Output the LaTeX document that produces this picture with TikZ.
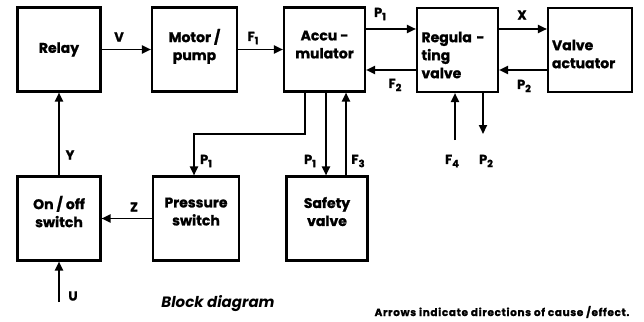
\documentclass[tikz,border=0pt]{standalone}
\usepackage{fontspec}
\setmainfont{Poppins}[BoldFeatures={FakeBold=1.2}]
\usetikzlibrary{arrows.meta}
\newcommand\lowsub[1]{\raisebox{-0.45ex}{\fontsize{10}{10}\selectfont #1}}
\begin{document}
\begin{tikzpicture}[x=1pt,y=-1pt,
  blk/.style={draw, line width=2.1pt, minimum width=83pt, minimum height=84pt, inner sep=2pt,
    font=\bfseries\fontsize{14}{18}\selectfont, align=center},
  arr/.style={line width=1.9pt, -{Triangle[length=9pt,width=8pt]}},
  lbl/.style={font=\bfseries\fontsize{13}{13}\selectfont, inner sep=0pt}]
\useasboundingbox (0,0) rectangle (644,321);
% blocks
\node[blk] (relay) at (59,49.5) {Relay};
\node[blk, minimum width=85pt, text depth=10pt] (motor) at (194.5,49.5) {Motor /\\pump};
\node[blk, minimum width=81pt, text depth=10pt] (acc) at (324.5,49.5) {Accu -\\mulator};
\node[blk, minimum width=81pt, align=left, text width=72pt, text depth=26pt] (reg) at (457.5,50) {Regula -\\ting\\valve};
\node[blk, minimum width=84pt, align=left, text width=76pt, text depth=10pt] (act) at (590,50) {Valve\\actuator};
\node[blk, text depth=14pt] (onoff) at (59,218.5) {On / off\\switch};
\node[blk, minimum width=86pt, text depth=14pt] (press) at (196,218.5) {Pressure\\switch};
\node[blk, minimum width=81pt, text depth=14pt] (safety) at (327,218.5) {Safety\\valve};
% helper coordinates
\coordinate (hA) at (0,29);
\coordinate (hB) at (0,70);
\coordinate (c1) at (305,134);
\coordinate (c2) at (194,134);
\coordinate (x326) at (326,0);
\coordinate (x346) at (346,0);
\coordinate (f4) at (455,140);
\coordinate (p2) at (483,134);
\coordinate (u) at (59,302);
% connectors
\draw[arr] (relay.east) -- (motor.west);
\draw[arr] (motor.east) -- (acc.west);
\draw[arr] (acc.east |- hA) -- (reg.west |- hA);
\draw[arr] (reg.west |- hB) -- (acc.east |- hB);
\draw[arr] (reg.east |- hA) -- (act.west |- hA);
\draw[arr] (act.west |- hB) -- (reg.east |- hB);
\draw[arr] (acc.south -| c1) -- (c1) -- (c2) -- (press.north -| c2);
\draw[arr] (acc.south -| x326) -- (safety.north -| x326);
\draw[arr] (safety.north -| x346) -- (acc.south -| x346);
\draw[arr] (f4) -- (reg.south -| f4);
\draw[arr] (reg.south -| p2) -- (p2);
\draw[arr] (onoff.north) -- (relay.south);
\draw[arr] (press.west) -- (onoff.east);
\draw[arr] (u) -- (onoff.south);
% labels
\node[lbl] (lV) at (119,37) {V};
\node[lbl] (lF1) at (253,38) {F\lowsub{1}};
\node[lbl] (lP1a) at (380,14) {P\lowsub{1}};
\node[lbl] (lX) at (522,15) {X};
\node[lbl] (lF2) at (395,85) {F\lowsub{2}};
\node[lbl] (lP2a) at (524,86) {P\lowsub{2}};
\node[lbl] (lY) at (70,155) {Y};
\node[lbl] (lP1b) at (206,161) {P\lowsub{1}};
\node[lbl] (lP1c) at (310,161) {P\lowsub{1}};
\node[lbl] (lF3) at (358,161) {F\lowsub{3}};
\node[lbl] (lF4) at (452,161) {F\lowsub{4}};
\node[lbl] (lP2b) at (486,161) {P\lowsub{2}};
\node[lbl] (lZ) at (134,207) {Z};
\node[lbl] (lU) at (73,296) {U};
\node[font=\bfseries\itshape\fontsize{15}{15}\selectfont, inner sep=0pt] (cap) at (218,304) {Block diagram};
\node[font=\bfseries\fontsize{10.5}{11}\selectfont\addfontfeature{LetterSpace=6}, inner sep=0pt] (note) at (502,312) {Arrows indicate directions of cause /effect.};
\end{tikzpicture}
\end{document}
